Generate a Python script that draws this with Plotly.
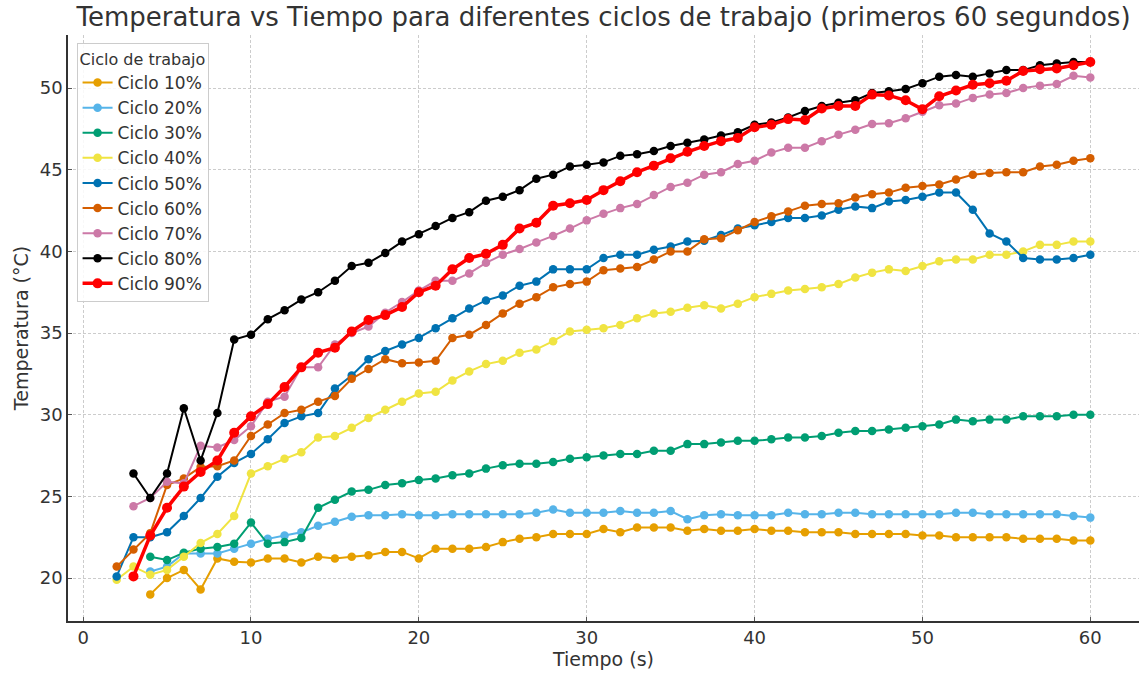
import plotly.graph_objects as go

# Time axes (seconds) for each duty-cycle run
t_10 = list(range(4, 61))
t_20 = list(range(4, 61))
t_30 = list(range(4, 61))
t_40 = list(range(2, 61))
t_50 = list(range(2, 61))
t_60 = list(range(2, 61))
t_70 = list(range(3, 61))
t_80 = list(range(3, 61))
t_90 = list(range(3, 61))

# Measured temperatures (°C)
temp_10 = [19.0, 20.0, 20.5, 19.3, 21.2, 21.0, 20.95, 21.2, 21.2, 20.95, 21.3, 21.2, 21.3, 21.4,
           21.6, 21.6, 21.2, 21.8, 21.8, 21.8, 21.9, 22.2, 22.4, 22.5, 22.7, 22.7, 22.7, 23.0,
           22.8, 23.1, 23.1, 23.1, 22.9, 23.0, 22.9, 22.9, 23.0, 22.9, 22.9, 22.8, 22.8, 22.8,
           22.7, 22.7, 22.7, 22.7, 22.6, 22.6, 22.5, 22.5, 22.5, 22.5, 22.4, 22.4, 22.4, 22.3, 22.3]
temp_20 = [20.4, 20.7, 21.5, 21.5, 21.5, 21.8, 22.1, 22.4, 22.6, 22.8, 23.2, 23.45, 23.75, 23.85,
           23.85, 23.9, 23.85, 23.85, 23.9, 23.9, 23.9, 23.9, 23.9, 24.0, 24.2, 24.0, 24.0, 24.0,
           24.1, 24.0, 24.0, 24.1, 23.6, 23.85, 23.9, 23.85, 23.85, 23.85, 24.0, 23.9, 23.9, 24.0,
           24.0, 23.9, 23.9, 23.9, 23.9, 23.9, 24.0, 24.0, 23.9, 23.9, 23.9, 23.9, 23.9, 23.8, 23.7]
temp_30 = [21.3, 21.1, 21.55, 21.8, 21.9, 22.1, 23.4, 22.1, 22.2, 22.45, 24.3, 24.8, 25.3, 25.4,
           25.7, 25.8, 26.0, 26.1, 26.3, 26.4, 26.7, 26.9, 27.0, 27.0, 27.1, 27.3, 27.4, 27.5,
           27.6, 27.6, 27.8, 27.8, 28.2, 28.2, 28.3, 28.4, 28.4, 28.5, 28.6, 28.6, 28.7, 28.9,
           29.0, 29.0, 29.1, 29.2, 29.3, 29.4, 29.7, 29.6, 29.7, 29.7, 29.9, 29.9, 29.9, 30.0, 30.0]
temp_40 = [19.9, 20.7, 20.2, 20.5, 21.3, 22.15, 22.7, 23.8, 26.4, 26.85, 27.3, 27.7, 28.6, 28.7,
           29.2, 29.8, 30.3, 30.8, 31.3, 31.4, 32.1, 32.65, 33.1, 33.3, 33.8, 34.0, 34.5, 35.1,
           35.2, 35.3, 35.5, 35.9, 36.2, 36.3, 36.55, 36.7, 36.5, 36.8, 37.2, 37.4, 37.6, 37.7,
           37.8, 38.0, 38.4, 38.7, 38.9, 38.8, 39.1, 39.4, 39.5, 39.5, 39.8, 39.8, 40.0, 40.4,
           40.4, 40.6, 40.6]
temp_50 = [20.1, 22.5, 22.5, 22.8, 23.8, 24.9, 26.2, 27.05, 27.6, 28.5, 29.5, 29.9, 30.1, 31.6,
           32.4, 33.4, 33.9, 34.3, 34.7, 35.3, 35.9, 36.5, 37.0, 37.3, 37.9, 38.15, 38.9, 38.9,
           38.9, 39.6, 39.8, 39.8, 40.1, 40.3, 40.6, 40.65, 41.0, 41.4, 41.6, 41.8, 42.05, 42.05,
           42.2, 42.55, 42.75, 42.65, 43.05, 43.15, 43.35, 43.6, 43.6, 42.55, 41.1, 40.6, 39.6,
           39.5, 39.5, 39.6, 39.8]
temp_60 = [20.7, 21.75, 22.75, 25.7, 26.1, 26.8, 26.85, 27.2, 28.7, 29.4, 30.1, 30.3, 30.8, 31.15,
           32.2, 32.8, 33.4, 33.15, 33.2, 33.3, 34.7, 34.9, 35.5, 36.2, 36.8, 37.2, 37.8, 38.0,
           38.15, 38.85, 38.95, 39.05, 39.5, 40.0, 40.0, 40.75, 40.8, 41.3, 41.8, 42.15, 42.45,
           42.8, 42.9, 42.95, 43.3, 43.5, 43.6, 43.9, 44.0, 44.1, 44.4, 44.7, 44.8, 44.85, 44.85,
           45.2, 45.3, 45.55, 45.7]
temp_70 = [24.4, 24.9, 25.9, 25.8, 28.1, 28.0, 28.45, 29.3, 30.8, 31.1, 32.9, 32.9, 34.3, 35.0,
           35.4, 36.25, 36.9, 37.6, 38.2, 38.2, 38.65, 39.3, 39.8, 40.15, 40.55, 40.95, 41.4, 41.9,
           42.3, 42.65, 42.9, 43.45, 43.95, 44.2, 44.7, 44.85, 45.35, 45.55, 46.05, 46.35, 46.35,
           46.75, 47.15, 47.45, 47.8, 47.85, 48.15, 48.55, 48.95, 49.05, 49.4, 49.6, 49.7, 50.0,
           50.15, 50.25, 50.75, 50.65]
temp_80 = [26.4, 24.9, 26.4, 30.4, 27.2, 30.1, 34.6, 34.9, 35.85, 36.4, 37.05, 37.5, 38.2, 39.1,
           39.3, 39.9, 40.6, 41.05, 41.55, 42.05, 42.4, 43.1, 43.35, 43.75, 44.45, 44.7, 45.2, 45.3,
           45.45, 45.85, 45.95, 46.15, 46.45, 46.65, 46.85, 47.1, 47.3, 47.75, 47.9, 48.2, 48.6,
           48.9, 49.1, 49.25, 49.7, 49.8, 49.95, 50.3, 50.7, 50.8, 50.7, 50.9, 51.1, 51.1, 51.4,
           51.5, 51.6, 51.6]
temp_90 = [20.1, 22.6, 24.3, 25.6, 26.5, 27.2, 28.9, 29.9, 30.65, 31.7, 32.9, 33.8, 34.1, 35.1,
           35.8, 36.1, 36.6, 37.5, 37.9, 38.9, 39.6, 39.85, 40.4, 41.4, 41.75, 42.8, 42.95, 43.15,
           43.75, 44.3, 44.85, 45.25, 45.7, 46.1, 46.45, 46.75, 46.95, 47.6, 47.75, 48.1, 48.05,
           48.75, 48.9, 48.9, 49.6, 49.55, 49.25, 48.7, 49.5, 49.85, 50.2, 50.3, 50.45, 51.05,
           51.15, 51.2, 51.4, 51.6]

series_names = ["Ciclo 10%", "Ciclo 20%", "Ciclo 30%", "Ciclo 40%", "Ciclo 50%",
                "Ciclo 60%", "Ciclo 70%", "Ciclo 80%", "Ciclo 90%"]
series_t = [t_10, t_20, t_30, t_40, t_50, t_60, t_70, t_80, t_90]
series_temp = [temp_10, temp_20, temp_30, temp_40, temp_50, temp_60, temp_70, temp_80, temp_90]
series_colors = ["#E69F00", "#56B4E9", "#009E73", "#F0E442", "#0072B2",
                 "#D55E00", "#CC79A7", "#000000", "#FF0000"]

FONT = "DejaVu Sans"
TEXT = "#333333"

fig = go.Figure()
for name, t, temp, color in zip(series_names, series_t, series_temp, series_colors):
    highlight = name == "Ciclo 90%"
    fig.add_trace(go.Scatter(
        x=t, y=temp, name=name, mode="lines+markers",
        line=dict(color=color, width=3.5 if highlight else 2),
        marker=dict(color=color, size=10 if highlight else 8.5, line=dict(width=0)),
    ))

axis_common = dict(
    showgrid=True, gridcolor="#cccccc", gridwidth=1, griddash="3px,2px",
    showline=True, linecolor="#333333", linewidth=1.5, mirror=False,
    zeroline=False, ticks="inside", ticklen=4, tickcolor="#555555", tickwidth=1,
    tickfont=dict(family=FONT, size=18, color=TEXT),
)

fig.update_layout(
    width=1141, height=674,
    margin=dict(l=68, r=2, t=35, b=53),
    paper_bgcolor="white", plot_bgcolor="white",
    font=dict(family=FONT, color=TEXT),
    title=dict(
        text="Temperatura vs Tiempo para diferentes ciclos de trabajo (primeros 60 segundos)",
        font=dict(family=FONT, size=26, color=TEXT),
        x=0.5, xref="paper", xanchor="center",
        y=0.975, yref="container", yanchor="middle",
    ),
    xaxis=dict(
        range=[-0.9, 62.9], tickvals=[0, 10, 20, 30, 40, 50, 60],
        title=dict(text="Tiempo (s)", font=dict(family=FONT, size=19, color=TEXT), standoff=4),
        **axis_common,
    ),
    yaxis=dict(
        range=[17.37, 53.25], tickvals=[20, 25, 30, 35, 40, 45, 50],
        title=dict(text="Temperatura (°C)", font=dict(family=FONT, size=19, color=TEXT), standoff=6),
        **axis_common,
    ),
    legend=dict(
        title=dict(text="Ciclo de trabajo", font=dict(family=FONT, size=16, color=TEXT)),
        font=dict(family=FONT, size=17, color=TEXT),
        x=0.008, y=0.986, xanchor="left", yanchor="top",
        bgcolor="rgba(255,255,255,0.85)", bordercolor="#cccccc", borderwidth=1,
        tracegroupgap=0, itemwidth=30,
    ),
    showlegend=True,
)

fig.write_html("out.html")
